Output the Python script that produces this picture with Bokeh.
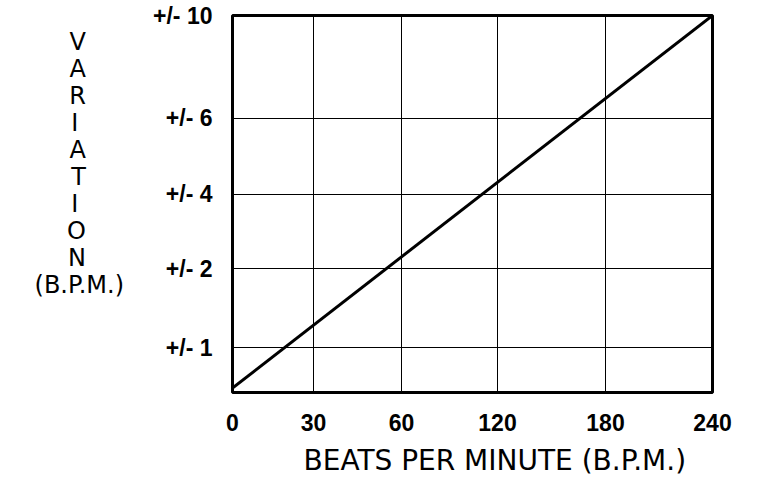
import numpy as np
from bokeh.plotting import figure
from bokeh.models import Range1d, FixedTicker, Title
from bokeh.embed import file_html
from bokeh.resources import INLINE

# ---- data ----
bpm_ticks = [0, 30, 60, 120, 180, 240]          # x tick labels (B.P.M.)
var_ticks = [1, 2, 4, 6, 10]                    # y tick labels (+/- B.P.M.)
line_bpm = [0, 240]                             # straight line, start / end
line_var = [0.1, 10]

# the original chart uses a hand-laid (non-uniform) scale; these are the
# positions of each tick along the frame (pixels of the reference)
bpm_scale_pos = [0, 81, 169, 265, 373, 480]
var_scale_vals = [0, 1, 2, 4, 6, 10]
var_scale_pos = [0, 45, 124, 199, 275, 378]

xpos = [float(v) for v in np.interp(bpm_ticks, bpm_ticks, bpm_scale_pos)]
ypos = [float(v) for v in np.interp(var_ticks, var_scale_vals, var_scale_pos)]
lx = np.interp(line_bpm, bpm_ticks, bpm_scale_pos)
ly = np.interp(line_var, var_scale_vals, var_scale_pos)

W, H = 750, 485
p = figure(width=W, height=H, output_backend="svg", toolbar_location=None,
           x_range=Range1d(0, 480), y_range=Range1d(0, 378),
           min_border_left=232, min_border_right=38,
           min_border_top=15, min_border_bottom=92)
p.background_fill_color = "white"
p.border_fill_color = "white"
p.outline_line_color = "black"
p.outline_line_width = 3

# grid
p.xgrid.ticker = FixedTicker(ticks=xpos[1:-1])
p.ygrid.ticker = FixedTicker(ticks=ypos[:-1])
for g in (p.xgrid, p.ygrid):
    g.grid_line_color = "black"
    g.grid_line_alpha = 1.0
    g.grid_line_width = 1

tick_font = "Liberation Sans"
title_font = "DejaVu Sans"
# axes
p.xaxis.ticker = FixedTicker(ticks=xpos)
p.xaxis.major_label_overrides = {xp: str(b) for xp, b in zip(xpos, bpm_ticks)}
p.yaxis.ticker = FixedTicker(ticks=ypos)
p.yaxis.major_label_overrides = {yp: f"+/- {v}" for yp, v in zip(ypos, var_ticks)}
for ax in (p.xaxis, p.yaxis):
    ax.axis_line_color = None
    ax.major_tick_line_color = None
    ax.minor_tick_line_color = None
    ax.major_label_text_font = tick_font
    ax.major_label_text_font_style = "bold"
    ax.major_label_text_font_size = "23px"
    ax.major_label_text_color = "black"
    ax.axis_label_text_font = title_font
    ax.axis_label_text_font_style = "normal"
    ax.axis_label_text_color = "black"
p.xaxis.major_label_standoff = 15
p.yaxis.major_label_standoff = 14

# x title (a below-title, left aligned with an offset, sits right of centre
# like the original)
p.add_layout(Title(text="BEATS PER MINUTE (B.P.M.)", align="left", offset=71,
                   standoff=17, text_font=title_font, text_font_size="28px",
                   text_font_style="normal", text_color="black"), "below")

# stacked vertical title; each letter padded (non-breaking spaces) so it sits
# centred above "(B.P.M.)"
NB = "\u00a0"
stack = [ch + NB * (6 if ch == "I" else 5) for ch in "VARIATION"]
ylab_lines = stack + ["(B.P.M.)", NB, NB, NB]
p.yaxis.axis_label = "\n".join(ylab_lines)
p.yaxis.axis_label_orientation = "horizontal"
p.yaxis.axis_label_text_font_size = "24px"
p.yaxis.axis_label_text_line_height = 0.965
p.yaxis.axis_label_standoff = 26

# the line
p.line(lx, ly, line_color="black", line_width=3)

open("out.html", "w").write(file_html(p, INLINE))
